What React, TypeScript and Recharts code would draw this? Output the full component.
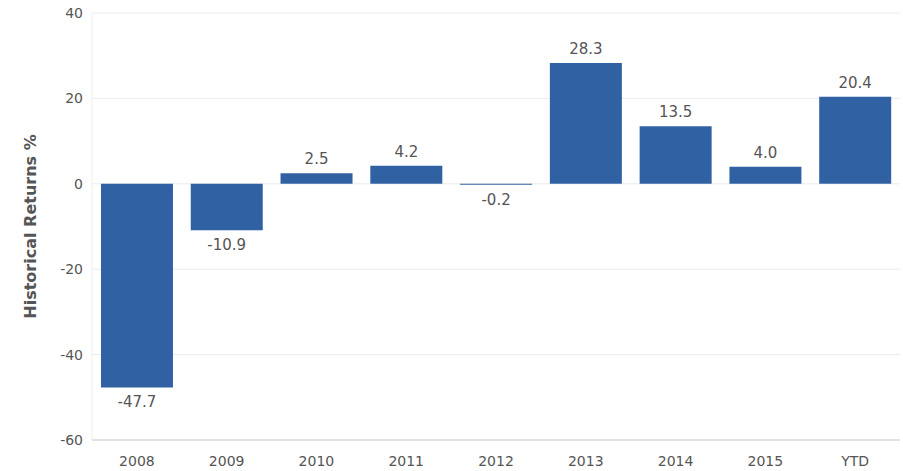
import React from "react";
import { BarChart, Bar, XAxis, YAxis, CartesianGrid, LabelList } from "recharts";

const categories = ["2008", "2009", "2010", "2011", "2012", "2013", "2014", "2015", "YTD"];
const returns = [-47.7, -10.9, 2.5, 4.2, -0.2, 28.3, 13.5, 4.0, 20.4];
const yTicks = [-60, -40, -20, 0, 20, 40];

const data = categories.map((c, i) => ({ year: c, value: returns[i] }));

const FONT = "'DejaVu Sans', sans-serif";

const ValueLabel = (props: any) => {
  const { x, y, width, height, value } = props;
  const top = Math.min(y, y + height);
  const bottom = Math.max(y, y + height);
  const cx = x + width / 2;
  const ty = value >= 0 ? top - 9 : bottom + 20;
  return (
    <text x={cx} y={ty} textAnchor="middle" fill="#555" fontSize={15} fontFamily={FONT}>
      {Number(value).toFixed(1)}
    </text>
  );
};

export default function App() {
  return (
    <div style={{ position: "absolute", left: 0, top: 0, background: "#fff" }}>
      <BarChart
        width={903}
        height={471}
        data={data}
        margin={{ top: 13, right: 3, bottom: 0, left: 0 }}
        barCategoryGap="10%"
      >
        <CartesianGrid vertical={false} stroke="#ebebeb" />
        <XAxis
          dataKey="year"
          height={31}
          tickLine={false}
          axisLine={{ stroke: "#cfcfcf" }}
          tick={{ fill: "#555", fontSize: 14, fontFamily: FONT }}
          tickMargin={10}
          interval={0}
        />
        <YAxis
          width={92}
          domain={[-60, 40]}
          ticks={yTicks}
          tickLine={false}
          tickSize={0}
          axisLine={{ stroke: "#eeeeee" }}
          tick={{ fill: "#555", fontSize: 14, fontFamily: FONT }}
          tickMargin={9}
          label={{
            value: "Historical Returns %",
            angle: -90,
            position: "insideLeft",
            offset: 0,
            dx: 30,
            style: { textAnchor: "middle", fill: "#555", fontSize: 16, fontWeight: "bold", fontFamily: FONT },
          }}
        />
        <Bar dataKey="value" fill="#3062a3" isAnimationActive={false}>
          <LabelList dataKey="value" content={ValueLabel} />
        </Bar>
      </BarChart>
    </div>
  );
}
